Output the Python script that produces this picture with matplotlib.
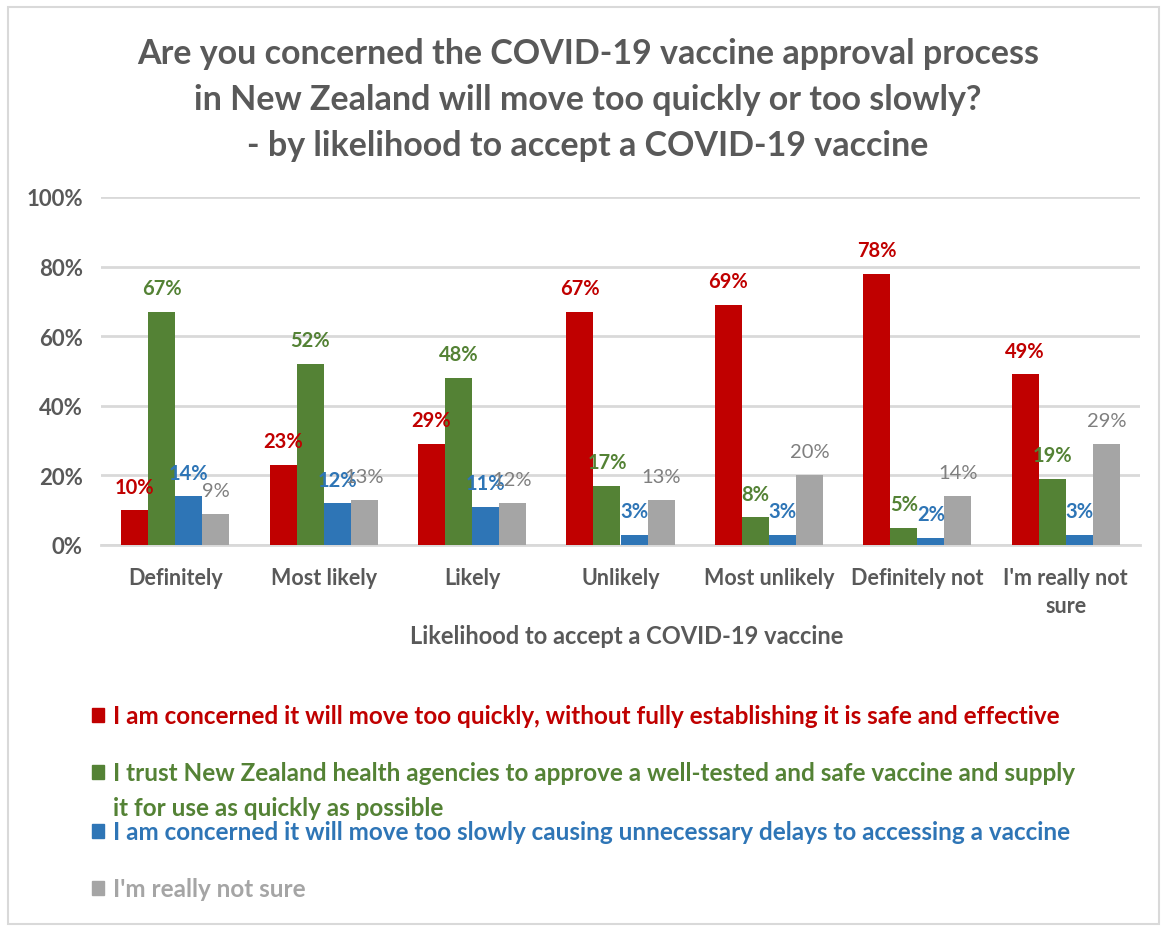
import matplotlib
matplotlib.use("Agg")
import matplotlib.pyplot as plt
import numpy as np
from matplotlib.patches import Rectangle

plt.rcParams["font.family"] = ["Lato", "DejaVu Sans"]

# dados do gráfico
categorias = ["Definitely", "Most likely", "Likely", "Unlikely",
              "Most unlikely", "Definitely not", "I'm really not\nsure"]
rapido = [10, 23, 29, 67, 69, 78, 49]
confio = [67, 52, 48, 17, 8, 5, 19]
lento = [14, 12, 11, 3, 3, 2, 3]
nao_sei = [9, 13, 12, 13, 20, 14, 29]

nomes = [
    "I am concerned it will move too quickly, without fully establishing it is safe and effective",
    "I trust New Zealand health agencies to approve a well-tested and safe vaccine and supply\nit for use as quickly as possible",
    "I am concerned it will move too slowly causing unnecessary delays to accessing a vaccine",
    "I'm really not sure",
]
valores = [rapido, confio, lento, nao_sei]
cores = ["#C00000", "#548235", "#2E75B6", "#A5A5A5"]
label_cores = ["#C00000", "#548235", "#2E75B6", "#7F7F7F"]
label_pesos = ["bold", "bold", "bold", "normal"]

titulo = ("Are you concerned the COVID-19 vaccine approval process\n"
          "in New Zealand will move too quickly or too slowly?\n"
          "- by likelihood to accept a COVID-19 vaccine")
cinza_texto = "#595959"

W, H = 1163, 929
fig = plt.figure(figsize=(W / 100, H / 100), dpi=100)
ax = fig.add_axes([101 / W, 1 - 546 / H, (1140 - 101) / W, (546 - 198) / H])

x = np.arange(len(categorias))
largura = 0.182
for i, vals in enumerate(valores):
    pos = x + (i - 1.5) * largura
    ax.bar(pos, vals, width=largura, color=cores[i], zorder=3)
    for px, v in zip(pos, vals):
        ax.annotate(f"{v}%", (px, v), xytext=(0, 17), textcoords="offset points",
                    ha="center", va="center", fontsize=14.5,
                    color=label_cores[i], fontweight=label_pesos[i], zorder=4)

ax.set_xlim(-0.5, len(categorias) - 0.5)
ax.set_ylim(0, 100)
ax.set_yticks(range(0, 101, 20))
ax.set_yticklabels([f"{t}%" for t in range(0, 101, 20)])
ax.set_xticks(x)
ax.set_xticklabels(categorias, linespacing=1.4)
ax.yaxis.grid(True, color="#D9D9D9", linewidth=2, zorder=0)
ax.tick_params(length=0, labelcolor=cinza_texto)
ax.tick_params(axis="y", pad=13, labelsize=16)
ax.tick_params(axis="x", pad=16, labelsize=15.5)
for t in ax.get_xticklabels() + ax.get_yticklabels():
    t.set_fontweight("bold")
for lado in ["top", "right", "left"]:
    ax.spines[lado].set_visible(False)
ax.spines["bottom"].set_color("#D9D9D9")
ax.spines["bottom"].set_linewidth(2)

fig.text(627 / W, 1 - 637 / H, "Likelihood to accept a COVID-19 vaccine",
         ha="center", va="center", fontsize=17, fontweight="bold", color=cinza_texto)

fig.text(588 / W, 1 - 100 / H, titulo, ha="center", va="center", fontsize=24.5,
         fontweight="bold", color=cinza_texto, linespacing=1.54)

# legenda manual (espaçamento irregular como no original)
linhas_y = [716, 773, 832, 889]
for nome, cor, yy in zip(nomes, cores, linhas_y):
    fig.patches.append(Rectangle((92 / W, 1 - (yy + 7) / H), 12 / W, 14 / H,
                                 transform=fig.transFigure, color=cor))
    fig.text(113 / W, 1 - (yy - 11) / H, nome, ha="left", va="top",
             fontsize=17.5, fontweight="bold", color=cor, linespacing=1.65)

# moldura externa
fig.patches.append(Rectangle((8 / W, 4 / H), (W - 12) / W, (H - 12) / H,
                             transform=fig.transFigure, fill=False,
                             edgecolor="#D9D9D9", linewidth=1.5))

fig.savefig("out.png", dpi=100)
